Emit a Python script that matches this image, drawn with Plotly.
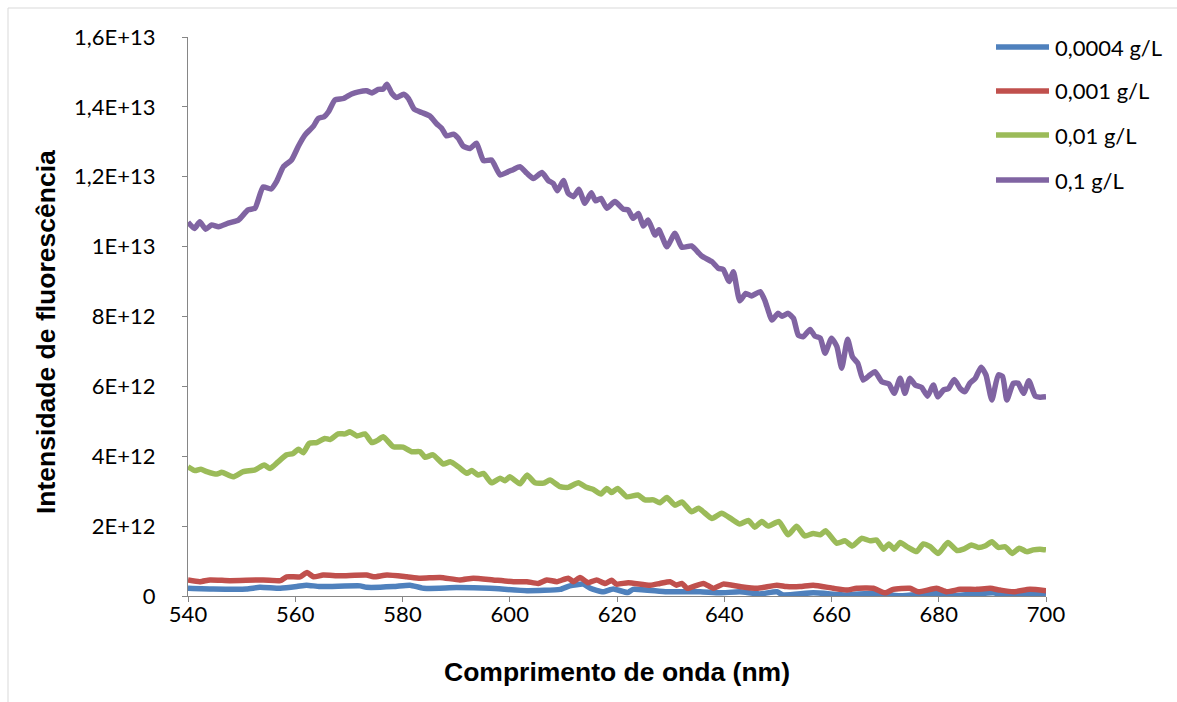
import plotly.graph_objects as go

# ---------------- data (intensity in units of 1E12) ----------------
series_names = ["0,0004 g/L", "0,001 g/L", "0,01 g/L", "0,1 g/L"]
series_colors = ["#4F81BD", "#C0504D", "#9BBB59", "#8064A2"]

wl_blue = [540, 544.7, 550.9, 553.4, 557.2, 560.3, 562.1, 564.6, 572.1, 573.3, 578.3, 581.4,
           583.9, 590.1, 596.3, 603.2, 609.4, 611.2, 613.7, 615.0, 617.4, 619.3, 622.0, 623.0,
           629.3, 635.5, 639.2, 642.9, 646.6, 649.8, 651.0, 656.6, 662.8, 667.8, 672.8, 679.6,
           682.7, 690.2, 692.7, 696.4, 700]
int_blue = [0.22, 0.20, 0.20, 0.25, 0.22, 0.27, 0.31, 0.27, 0.29, 0.25, 0.27, 0.31,
            0.22, 0.24, 0.22, 0.15, 0.19, 0.29, 0.34, 0.22, 0.12, 0.20, 0.10, 0.19,
            0.12, 0.12, 0.09, 0.12, 0.06, 0.12, 0.03, 0.09, 0.03, 0.08, 0.01, 0.08,
            0.01, 0.09, 0.01, 0.08, 0.06]

wl_red = [540, 542.2, 544.1, 547.8, 554.0, 557.2, 558.4, 560.9, 562.2, 563.4, 565.2, 568.3,
          573.3, 574.6, 577.1, 580.8, 583.3, 587.0, 590.7, 593.2, 596.9, 600.7, 603.2, 605.3,
          606.9, 608.8, 610.9, 611.9, 613.1, 614.6, 616.2, 617.8, 619.0, 619.9, 622.1, 626.2,
          628.0, 629.9, 631.1, 632.1, 633.1, 636.1, 638.0, 639.8, 642.9, 646.1, 649.8, 651.6,
          654.1, 656.6, 660.3, 662.8, 664.7, 667.8, 670.0, 671.5, 674.6, 676.2, 679.6, 681.5,
          684.0, 687.1, 689.6, 691.4, 693.9, 697.0, 700]
int_red = [0.46, 0.41, 0.46, 0.44, 0.46, 0.44, 0.55, 0.55, 0.67, 0.55, 0.60, 0.58,
           0.60, 0.55, 0.60, 0.55, 0.51, 0.53, 0.46, 0.51, 0.46, 0.41, 0.41, 0.36,
           0.46, 0.41, 0.51, 0.41, 0.53, 0.38, 0.46, 0.36, 0.45, 0.34, 0.38, 0.31,
           0.36, 0.41, 0.31, 0.36, 0.22, 0.36, 0.22, 0.34, 0.27, 0.22, 0.31, 0.27,
           0.27, 0.31, 0.22, 0.17, 0.22, 0.22, 0.09, 0.19, 0.22, 0.12, 0.22, 0.12,
           0.19, 0.19, 0.22, 0.17, 0.12, 0.19, 0.15]

wl_green = [540, 541.3, 542.4, 543.5, 545.4, 546.3, 548.4, 550.3, 552.5, 554.2, 555.3, 556.8,
            558.4, 559.6, 560.6, 561.5, 562.6, 564.0, 565.5, 566.5, 568.0, 569.3, 570.2, 571.5,
            573.0, 574.3, 575.4, 576.4, 578.3, 580.1, 581.7, 583.3, 584.2, 585.7, 587.6, 588.9,
            590.4, 592.0, 592.9, 594.1, 595.1, 596.6, 598.2, 599.1, 600.0, 601.9, 603.2, 604.7,
            606.3, 607.5, 609.4, 610.9, 612.8, 614.3, 615.6, 617.0, 618.1, 619.0, 620.1, 621.8,
            623.9, 625.2, 626.8, 628.0, 629.3, 630.8, 632.1, 633.9, 635.2, 637.7, 639.5, 641.4,
            642.9, 644.5, 645.7, 647.0, 648.2, 650.2, 651.9, 653.5, 655.0, 656.6, 657.9, 658.9,
            661.0, 662.5, 663.9, 665.6, 667.2, 668.4, 669.7, 670.7, 671.7, 672.8, 674.3, 675.9,
            677.1, 678.4, 679.9, 681.7, 683.4, 684.6, 686.1, 687.4, 688.6, 689.9, 691.1, 692.4,
            693.7, 695.0, 696.4, 697.6, 698.9, 700]
int_green = [3.70, 3.59, 3.63, 3.56, 3.49, 3.54, 3.41, 3.56, 3.61, 3.75, 3.65, 3.84,
             4.04, 4.08, 4.20, 4.10, 4.37, 4.39, 4.51, 4.48, 4.64, 4.64, 4.70, 4.58,
             4.64, 4.39, 4.46, 4.56, 4.27, 4.26, 4.13, 4.13, 3.97, 4.04, 3.78, 3.84,
             3.70, 3.51, 3.59, 3.46, 3.51, 3.24, 3.37, 3.30, 3.41, 3.21, 3.46, 3.24,
             3.23, 3.32, 3.13, 3.11, 3.24, 3.11, 3.05, 2.92, 3.08, 2.96, 3.08, 2.84,
             2.89, 2.75, 2.75, 2.67, 2.82, 2.60, 2.69, 2.41, 2.51, 2.22, 2.37, 2.20,
             2.06, 2.16, 1.97, 2.13, 2.00, 2.13, 1.75, 2.00, 1.72, 1.79, 1.75, 1.87,
             1.51, 1.58, 1.43, 1.65, 1.58, 1.60, 1.34, 1.49, 1.34, 1.53, 1.39, 1.27,
             1.49, 1.41, 1.22, 1.53, 1.30, 1.34, 1.46, 1.39, 1.43, 1.55, 1.39, 1.41,
             1.22, 1.37, 1.27, 1.32, 1.34, 1.32]

wl_purple = [540, 541.2, 542.2, 543.3, 544.4, 545.7, 547.5, 549.4, 551.2, 552.5, 554.0, 555.5,
             556.5, 557.8, 559.3, 560.6, 561.8, 563.4, 564.3, 565.4, 566.2, 567.4, 569.0, 570.5,
             571.8, 573.3, 574.3, 575.5, 576.4, 577.1, 578.0, 578.9, 580.2, 581.1, 582.2, 583.6,
             585.1, 586.4, 587.3, 588.2, 589.5, 590.4, 591.3, 592.6, 593.8, 595.1, 596.6, 598.2,
             599.4, 600.7, 601.9, 603.2, 604.4, 606.0, 607.2, 608.1, 608.9, 610.0, 610.9, 611.9,
             612.9, 614.0, 615.2, 616.0, 617.0, 618.1, 619.6, 621.2, 622.1, 623.0, 624.0, 624.9,
             625.8, 627.1, 627.8, 629.3, 630.8, 632.1, 633.9, 635.8, 637.7, 638.9, 639.8, 640.9,
             641.7, 642.9, 644.0, 645.1, 646.7, 647.6, 648.9, 650.0, 650.8, 651.9, 652.9, 653.8,
             654.7, 656.0, 656.9, 657.9, 658.8, 660.0, 661.0, 661.9, 663.0, 663.9, 664.9, 665.9,
             667.2, 668.1, 669.4, 670.7, 671.7, 672.8, 673.7, 674.6, 675.6, 676.8, 677.9, 679.0,
             679.8, 680.9, 681.8, 682.9, 684.0, 684.9, 685.8, 686.8, 687.9, 688.8, 689.9, 691.1,
             691.9, 692.7, 693.9, 694.8, 695.8, 696.8, 698.0, 698.9, 700]
int_purple = [10.70, 10.52, 10.71, 10.50, 10.62, 10.57, 10.67, 10.76, 11.05, 11.10, 11.71, 11.65,
              11.86, 12.29, 12.48, 12.88, 13.19, 13.45, 13.67, 13.72, 13.86, 14.20, 14.24, 14.37,
              14.43, 14.46, 14.40, 14.50, 14.51, 14.65, 14.39, 14.27, 14.36, 14.24, 13.93, 13.84,
              13.74, 13.51, 13.39, 13.17, 13.22, 13.10, 12.88, 12.81, 12.96, 12.46, 12.48, 12.05,
              12.12, 12.21, 12.29, 12.10, 11.95, 12.12, 11.89, 11.81, 11.60, 11.89, 11.53, 11.43,
              11.64, 11.24, 11.54, 11.31, 11.38, 11.10, 11.29, 11.07, 11.05, 10.81, 10.95, 10.59,
              10.76, 10.33, 10.48, 10.00, 10.38, 9.98, 10.02, 9.73, 9.57, 9.38, 9.35, 9.00,
              9.28, 8.45, 8.66, 8.59, 8.71, 8.45, 7.90, 8.09, 8.01, 8.09, 7.95, 7.47,
              7.42, 7.63, 7.44, 7.38, 6.95, 7.38, 7.14, 6.52, 7.35, 6.85, 6.66, 6.18,
              6.33, 6.42, 6.13, 6.07, 5.80, 6.23, 5.80, 6.23, 6.04, 5.97, 5.72, 6.04,
              5.70, 5.90, 5.94, 6.20, 5.94, 5.85, 6.09, 6.23, 6.55, 6.33, 5.61, 6.33,
              6.28, 5.61, 6.09, 6.09, 5.80, 6.16, 5.72, 5.69, 5.70]

x_ticks = [540, 560, 580, 600, 620, 640, 660, 680, 700]
y_tickvals = [0, 2e12, 4e12, 6e12, 8e12, 1e13, 1.2e13, 1.4e13, 1.6e13]
y_ticktext = ["0", "2E+12", "4E+12", "6E+12", "8E+12", "1E+13", "1,2E+13", "1,4E+13", "1,6E+13"]

x_title = "Comprimento de onda (nm)"
y_title = "Intensidade de fluorescência"

# ---------------- figure ----------------
W, H = 1177, 702
L, R, T, B = 188, 1046, 37, 596      # plot area in pixels
pw, ph = R - L, B - T

def px(x):
    return (x - L) / pw

def py(y):
    return (B - y) / ph

fig = go.Figure()
all_wl = [wl_blue, wl_red, wl_green, wl_purple]
all_int = [int_blue, int_red, int_green, int_purple]
for name, color, wl, vals in zip(series_names, series_colors, all_wl, all_int):
    fig.add_trace(go.Scatter(
        x=wl, y=[v * 1e12 for v in vals], name=name, mode="lines",
        line=dict(color=color, width=5.5, shape="spline", smoothing=0.5),
        showlegend=False, hoverinfo="skip"))

axis_color = "#868686"
tick_font = dict(family="Lato", size=22, color="#000000")

fig.update_layout(
    width=W, height=H,
    margin=dict(l=L, r=W - R, t=T, b=H - B),
    paper_bgcolor="white", plot_bgcolor="white",
    xaxis=dict(range=[540, 700], tickvals=x_ticks, ticktext=[str(t) for t in x_ticks],
               showgrid=False, zeroline=False, showline=True, linecolor=axis_color, linewidth=1,
               ticks="outside", ticklen=5, tickcolor=axis_color, tickfont=tick_font,
               ticklabelstandoff=-6),
    yaxis=dict(range=[0, 1.6e13], tickvals=y_tickvals, ticktext=y_ticktext,
               showgrid=False, zeroline=False, showline=True, linecolor=axis_color, linewidth=1,
               ticks="outside", ticklen=5, tickcolor=axis_color, tickfont=tick_font,
               ticklabelstandoff=22),
)

title_font = dict(family="Liberation Sans", size=26.5, color="#000000")
annotations = [
    dict(text="<b>" + x_title + "</b>", x=px(617), y=py(672), xref="paper", yref="paper",
         xanchor="center", yanchor="middle", showarrow=False, font=title_font),
    dict(text="<b>" + y_title + "</b>", x=px(46), y=py(332), xref="paper", yref="paper",
         xanchor="center", yanchor="middle", textangle=-90, showarrow=False, font=title_font),
]
# chart-area border (continues beyond the visible right/bottom edges)
shapes = [
    dict(type="rect", xref="paper", yref="paper", x0=px(8), x1=px(1200), y0=py(730), y1=py(8),
         line=dict(color="#D9D9D9", width=1), fillcolor="rgba(0,0,0,0)", layer="below"),
]

# legend (drawn as line samples + labels)
legend_rows = [47, 91, 135, 180]
for name, color, ry in zip(series_names, series_colors, legend_rows):
    shapes.append(dict(type="line", xref="paper", yref="paper", x0=px(996), x1=px(1049),
                       y0=py(ry), y1=py(ry), line=dict(color=color, width=5.5)))
    annotations.append(dict(text=name, x=px(1053), y=py(ry), xref="paper", yref="paper",
                            xanchor="left", yanchor="middle", showarrow=False,
                            font=dict(family="Lato", size=22, color="#000000")))

fig.update_layout(annotations=annotations, shapes=shapes)
fig.write_html("out.html")
